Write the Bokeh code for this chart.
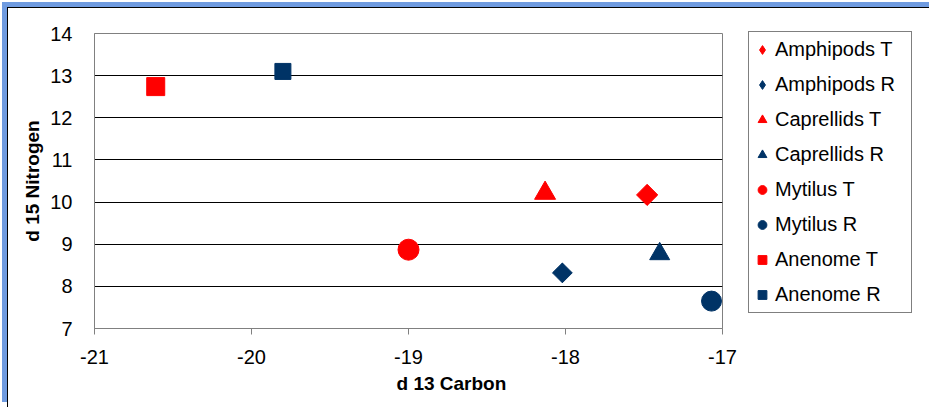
import numpy as np
from bokeh.plotting import figure
from bokeh.models import Legend, LegendItem, FixedTicker, Range1d, ColumnDataSource, Title
from bokeh.embed import file_html
from bokeh.resources import INLINE

series = ["Amphipods T", "Amphipods R", "Caprellids T", "Caprellids R",
          "Mytilus T", "Mytilus R", "Anenome T", "Anenome R"]
carbon = [-17.48, -18.02, -18.13, -17.40, -19.00, -17.07, -20.61, -19.80]
nitrogen = [10.17, 8.32, 10.21, 8.77, 8.87, 7.65, 12.74, 13.10]
x_ticks = [-21, -20, -19, -18, -17]
x_tick_labels = ["-21", "-20", "-19", "-18", "-17"]
y_ticks = [7, 8, 9, 10, 11, 12, 13, 14]
x_title = "d 13 Carbon"
y_title = "d 15 Nitrogen"

RED = "#FF0000"
NAVY = "#003366"
colors = [RED, NAVY, RED, NAVY, RED, NAVY, RED, NAVY]
markers = ["square", "square", "triangle", "triangle", "circle", "circle", "square", "square"]
legend_markers = ["diamond", "diamond", "triangle", "triangle", "circle", "circle", "square", "square"]
angles = [np.pi / 4, np.pi / 4, 0, 0, 0, 0, 0, 0]
sizes = [15, 14, 21, 20, 21, 20, 18, 16]

FONT = "Liberation Sans"

p = figure(output_backend="svg", toolbar_location=None,
           frame_width=628, frame_height=295,
           x_range=Range1d(-21, -17), y_range=Range1d(7, 14),
           min_border_left=86, min_border_right=0, min_border_top=25, min_border_bottom=80)
p.styles = {"margin-left": "8px", "margin-top": "8px",
            "box-shadow": ("-1px -1px 0 0 #000000, 0 -1px 0 0 #000000, "
                           "-6px -6px 0 0 #6F9BE0, 0 -6px 0 0 #6F9BE0")}

p.outline_line_color = "#808080"
p.outline_line_width = 1

# axes
p.xaxis.ticker = FixedTicker(ticks=x_ticks)
p.xaxis.major_label_overrides = {t: s for t, s in zip(x_ticks, x_tick_labels)}
p.yaxis.ticker = FixedTicker(ticks=y_ticks)
p.xaxis.minor_tick_line_color = None
p.yaxis.minor_tick_line_color = None
for ax in (p.xaxis, p.yaxis):
    ax.axis_line_color = "#808080"
    ax.major_tick_line_color = "#808080"
    ax.major_label_text_font = FONT
    ax.major_label_text_font_size = "20px"
    ax.major_label_text_color = "#000000"
    ax.axis_label_text_font = FONT
    ax.axis_label_text_font_style = "bold"
    ax.axis_label_text_font_size = "19px"
    ax.axis_label_text_color = "#000000"
p.xaxis.major_tick_in = 0
p.xaxis.major_tick_out = 6
p.xaxis.major_label_standoff = 15
p.yaxis.major_tick_in = 0
p.yaxis.major_tick_out = 0
p.yaxis.major_label_standoff = 22
p.yaxis.axis_label = y_title
p.yaxis.axis_label_standoff = 4

# x-axis title, placed off-centre as in the original chart
xt = Title(text=x_title, align="left", offset=302, standoff=8,
           text_font=FONT, text_font_style="bold", text_font_size="19px",
           text_color="#000000")
p.add_layout(xt, "below")

p.xgrid.grid_line_color = None
p.ygrid.grid_line_color = "#000000"
p.ygrid.grid_line_width = 1

items = []
for name, cx, ny, c, m, lm, a, s in zip(series, carbon, nitrogen, colors, markers,
                                         legend_markers, angles, sizes):
    src = ColumnDataSource(dict(x=[cx], y=[ny]))
    if lm != m:
        # legend swatch glyph, hidden beneath the rotated square drawn on top
        lr = p.scatter("x", "y", source=src, marker=lm, size=s + 5,
                       fill_color=c, line_color=c)
    r = p.scatter("x", "y", source=src, marker=m, size=s, angle=a,
                  fill_color=c, line_color=c)
    if lm == m:
        lr = r
    items.append(LegendItem(label=name, renderers=[lr]))

legend = Legend(items=items, location=(26, 15), margin=0, padding=2,
                glyph_width=22, glyph_height=31, spacing=4, label_standoff=2,
                label_width=134,
                label_text_font=FONT, label_text_font_size="20px",
                label_text_color="#000000",
                border_line_color="#000000", border_line_width=1,
                background_fill_color="#FFFFFF", background_fill_alpha=1)
p.add_layout(legend, "right")

open("out.html", "w").write(file_html(p, INLINE))
